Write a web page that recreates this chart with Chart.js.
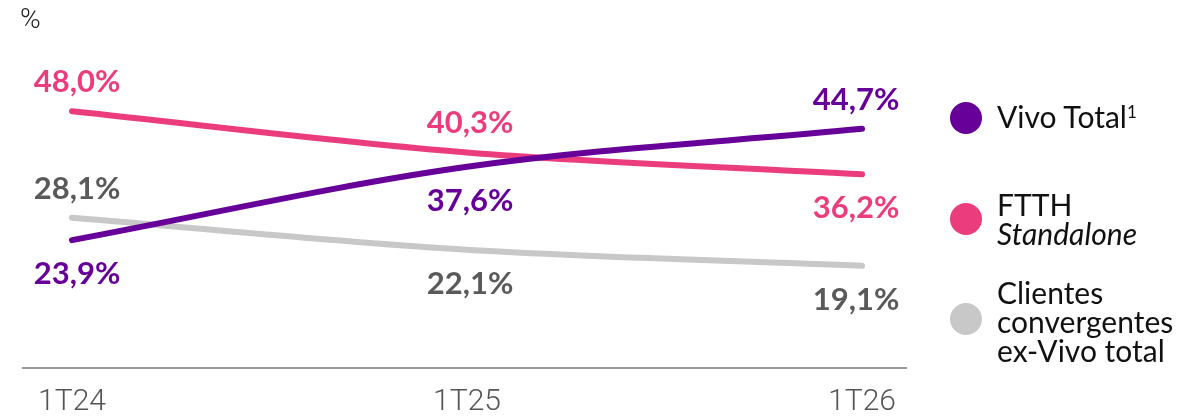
<!DOCTYPE html>
<html>
<head>
<meta charset="utf-8">
<script src="https://cdn.jsdelivr.net/npm/chart.js@4"></script>
<style>
  body { margin: 0; background: #fff; font-family: Lato, sans-serif; overflow: hidden; }
  #wrap { position: relative; width: 1181px; height: 417px; overflow: hidden; }
  #unit { position: absolute; left: 20px; top: 2px; font-size: 28px; color: #222; font-family: Roboto, sans-serif; font-weight: 300; }
  .leg { position: absolute; left: 950px; display: flex; align-items: flex-start; font-size: 30px; line-height: 29px; color: #111; }
  .leg .dot { width: 32px; height: 32px; border-radius: 50%; margin-right: 15px; flex: none; }
  .leg sup { font-size: 17px; vertical-align: 10px; line-height: 0; }
</style>
</head>
<body>
<div id="wrap">
  <canvas id="grafik" width="1181" height="438"></canvas>
  <div id="unit">%</div>
  <div class="leg" style="top:102px"><div class="dot" style="background:#660099;margin-top:0"></div><div>Vivo Total<sup>1</sup></div></div>
  <div class="leg" style="top:190px"><div class="dot" style="background:#EB3D7D;margin-top:13px"></div><div>FTTH<br><i>Standalone</i></div></div>
  <div class="leg" style="top:278px"><div class="dot" style="background:#C8C8C8;margin-top:25px"></div><div>Clientes<br>convergentes<br>ex-Vivo total</div></div>
</div>
<script>
// Veriler
const periodos = ["1T24", "1T25", "1T26"];
const vivoTotal = [23.9, 37.6, 44.7];
const ftthStandalone = [48.0, 40.3, 36.2];
const clientesConvergentes = [28.1, 22.1, 19.1];

// etiket yönü: yukarı (-1) / aşağı (1)
const etiketYonu = {
  vivo: [1, 1, -1],
  ftth: [-1, -1, 1],
  clientes: [-1, 1, 1],
};

function fmt(v) {
  return v.toFixed(1).replace(".", ",") + "%";
}

// değer etiketleri + eksen çizgisi
const etiketPlugin = {
  id: "etiketler",
  afterDatasetsDraw(chart) {
    const ctx = chart.ctx;
    const area = chart.chartArea;
    const y0 = chart.scales.y.getPixelForValue(0);
    ctx.save();
    ctx.strokeStyle = "#777";
    ctx.lineWidth = 1.5;
    ctx.beginPath();
    ctx.moveTo(area.left - 50, y0);
    ctx.lineTo(area.right + 45, y0);
    ctx.stroke();

    ctx.font = "bold 31px Lato";
    ctx.textAlign = "center";
    ctx.textBaseline = "middle";
    const dx = [5, 3, -6];
    chart.data.datasets.forEach((ds, i) => {
      const meta = chart.getDatasetMeta(i);
      meta.data.forEach((pt, j) => {
        const yon = ds.etiketYonu[j];
        const off = yon < 0 ? -29 : 34;
        ctx.fillStyle = ds.etiketRenk;
        ctx.fillText(fmt(ds.data[j]), pt.x + dx[j], pt.y + off);
      });
    });
    ctx.restore();
  },
};

const ctx = document.getElementById("grafik").getContext("2d");
new Chart(ctx, {
  type: "line",
  data: {
    labels: periodos,
    datasets: [
      {
        label: "Vivo Total",
        data: vivoTotal,
        borderColor: "#660099",
        etiketRenk: "#660099",
        etiketYonu: etiketYonu.vivo,
      },
      {
        label: "FTTH Standalone",
        data: ftthStandalone,
        borderColor: "#EB3D7D",
        etiketRenk: "#EB3D7D",
        etiketYonu: etiketYonu.ftth,
      },
      {
        label: "Clientes convergentes ex-Vivo total",
        data: clientesConvergentes,
        borderColor: "#C8C8C8",
        etiketRenk: "#5A5A5A",
        etiketYonu: etiketYonu.clientes,
      },
    ],
  },
  options: {
    responsive: false,
    animation: false,
    layout: { padding: { left: 72, right: 319, top: 47, bottom: 2 } },
    elements: {
      line: { borderWidth: 6, tension: 0.4, borderCapStyle: "round", cubicInterpolationMode: "monotone" },
      point: { radius: 0 },
    },
    plugins: { legend: { display: false }, tooltip: { enabled: false } },
    scales: {
      x: {
        offset: false,
        grid: { display: false, drawTicks: false },
        border: { display: false },
        ticks: { color: "#555", padding: 16, font: { family: "Roboto", size: 30, weight: 300 } },
      },
      y: { display: false, min: 0, max: 60 },
    },
  },
  plugins: [etiketPlugin],
});
</script>
</body>
</html>
